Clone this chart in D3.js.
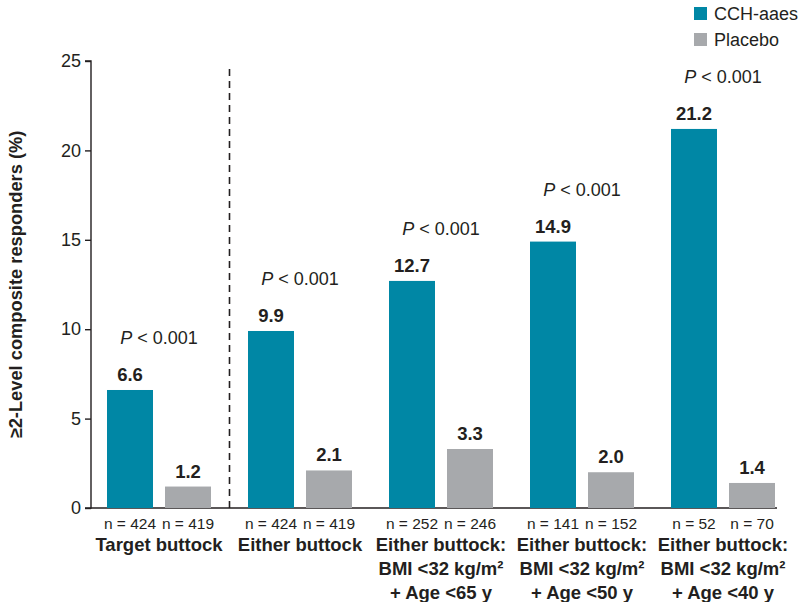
<!DOCTYPE html>
<html>
<head>
<meta charset="utf-8">
<script src="https://cdn.jsdelivr.net/npm/d3@7"></script>
<style>
  body { margin: 0; background: #fff; }
  svg { font-family: "Liberation Sans", Arial, sans-serif; }
</style>
</head>
<body>
<div id="chart"></div>
<script>
const groups = ["target", "either", "bmi65", "bmi50", "bmi40"]
const groupLabels = [
  ["Target buttock"],
  ["Either buttock"],
  ["Either buttock:", "BMI <32 kg/m²", "+ Age <65 y"],
  ["Either buttock:", "BMI <32 kg/m²", "+ Age <50 y"],
  ["Either buttock:", "BMI <32 kg/m²", "+ Age <40 y"]
]
const series = ["CCH-aaes", "Placebo"]
const cchValues = [6.6, 9.9, 12.7, 14.9, 21.2]
const placeboValues = [1.2, 2.1, 3.3, 2.0, 1.4]
const cchN = [424, 424, 252, 141, 52]
const placeboN = [419, 419, 246, 152, 70]
const pLabels = ["< 0.001", "< 0.001", "< 0.001", "< 0.001", "< 0.001"]
const yTicks = [0, 5, 10, 15, 20, 25]

const colors = { "CCH-aaes": "#0087a5", "Placebo": "#a7a9ac" }
const ink = "#231f20"
const width = 800, height = 602

const svg = d3.select("#chart").append("svg")
  .attr("width", width).attr("height", height)

const y = d3.scaleLinear().domain([0, 25]).range([508, 61])
const x0 = d3.scaleBand().domain(groups).range([88, 793])
const x1 = d3.scaleBand().domain(series).range([19, 123]).paddingInner(0.207)

const rows = groups.map((g, i) => ({
  group: g, i,
  bars: [
    { key: "CCH-aaes", value: cchValues[i], n: cchN[i] },
    { key: "Placebo", value: placeboValues[i], n: placeboN[i] }
  ]
}))

// Y axis
const yAxis = svg.append("g")
  .attr("transform", "translate(91,0)")
  .call(d3.axisLeft(y).tickValues(yTicks).tickSize(6).tickPadding(4))
yAxis.select(".domain").attr("stroke", ink).attr("stroke-width", 1.4).attr("d", `M-6,${y(25)}H0V${y(0)}H-6`)
yAxis.selectAll(".tick line").attr("stroke", ink).attr("stroke-width", 1.4)
yAxis.selectAll(".tick text").attr("fill", ink).style("font-size", "18px")

// X axis line
svg.append("line")
  .attr("x1", 91).attr("x2", 777)
  .attr("y1", y(0)).attr("y2", y(0))
  .attr("stroke", ink).attr("stroke-width", 1.4)

// Y label
svg.append("text")
  .attr("transform", `translate(15,${(y(0) + y(25)) / 2}) rotate(-90)`)
  .attr("text-anchor", "middle")
  .attr("dominant-baseline", "central")
  .style("font-size", "18.3px").style("font-weight", "bold").attr("fill", ink)
  .text("≥2-Level composite responders (%)")

// Dashed divider between first and second group
const divX = (x0("target") + x1("Placebo") + x1.bandwidth() + x0("either") + x1("CCH-aaes")) / 2
svg.append("line")
  .attr("x1", divX).attr("x2", divX)
  .attr("y1", y(0)).attr("y2", y(24.8))
  .attr("stroke", ink).attr("stroke-width", 1.6)
  .attr("stroke-dasharray", "7,5")

const g = svg.selectAll(".group").data(rows).join("g")
  .attr("class", "group")
  .attr("transform", d => `translate(${x0(d.group)},0)`)

g.selectAll("rect").data(d => d.bars).join("rect")
  .attr("x", d => x1(d.key))
  .attr("width", x1.bandwidth())
  .attr("y", d => y(d.value))
  .attr("height", d => y(0) - y(d.value))
  .attr("fill", d => colors[d.key])

// Value labels
g.selectAll(".val").data(d => d.bars).join("text")
  .attr("class", "val")
  .attr("x", d => x1(d.key) + x1.bandwidth() / 2)
  .attr("y", d => y(d.value) - 9)
  .attr("text-anchor", "middle")
  .style("font-size", "18.5px").style("font-weight", "bold").attr("fill", ink)
  .text(d => d.value.toFixed(1))

// n labels
g.selectAll(".n").data(d => d.bars).join("text")
  .attr("class", "n")
  .attr("x", d => x1(d.key) + x1.bandwidth() / 2)
  .attr("y", 529)
  .attr("text-anchor", "middle")
  .style("font-size", "15.5px").attr("fill", ink)
  .text(d => `n = ${d.n}`)

// P values
const pText = g.append("text")
  .attr("x", 71)
  .attr("y", d => y(d.bars[0].value) - 46)
  .attr("text-anchor", "middle")
  .style("font-size", "18px").attr("fill", ink)
pText.append("tspan").style("font-style", "italic").text("P")
pText.append("tspan").text(d => " " + pLabels[d.i])

// Category labels
g.each(function (d) {
  const t = d3.select(this).append("text")
    .attr("text-anchor", "middle")
    .style("font-size", "18.5px").style("font-weight", "bold").attr("fill", ink)
  groupLabels[d.i].forEach((line, j) => {
    t.append("tspan").attr("x", 71).attr("y", 551 + j * 24).text(line)
  })
})

// Legend
const legend = svg.append("g").attr("transform", "translate(694,7)")
series.forEach((s, i) => {
  legend.append("rect")
    .attr("x", 0).attr("y", i * 26)
    .attr("width", 13).attr("height", 13)
    .attr("fill", colors[s])
  legend.append("text")
    .attr("x", 20).attr("y", i * 26 + 7)
    .attr("dominant-baseline", "central")
    .style("font-size", "18px").attr("fill", ink)
    .text(s)
})
</script>
</body>
</html>
